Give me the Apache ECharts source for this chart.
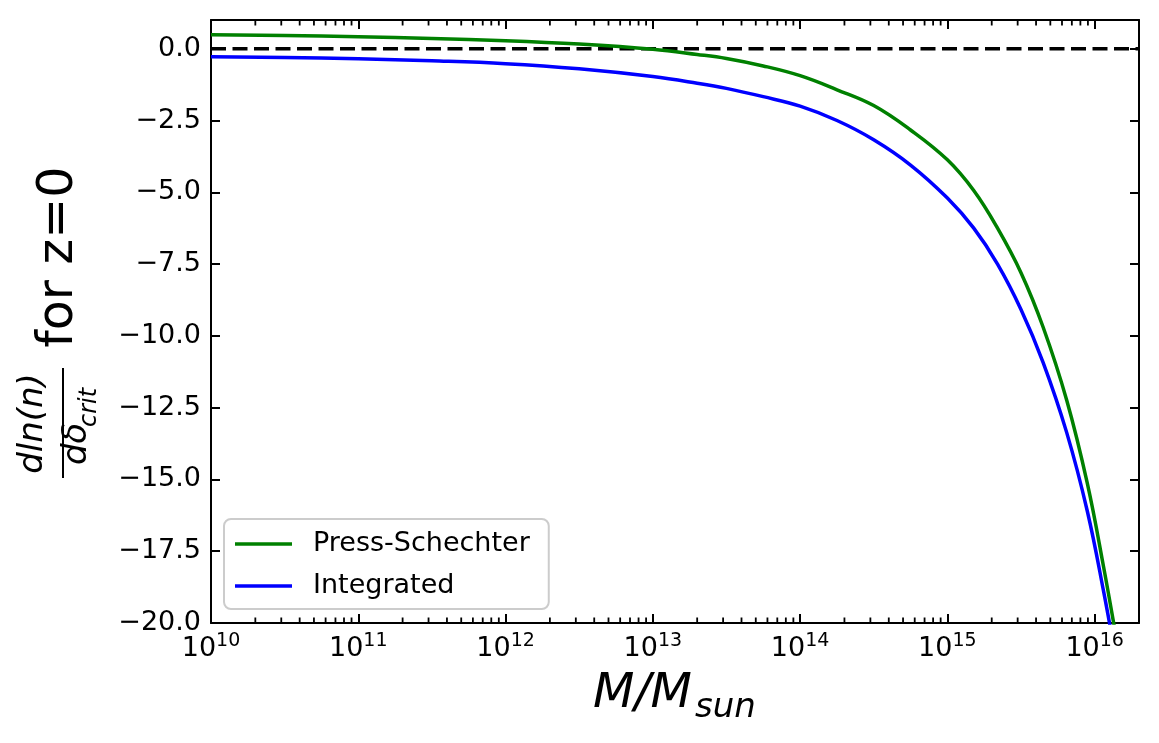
<!DOCTYPE html>
<html>
<head>
<meta charset="utf-8">
<script src="https://cdn.jsdelivr.net/npm/echarts@6/dist/echarts.min.js"></script>
<style>
html,body{margin:0;padding:0;background:#fff;}
#chart{width:1159px;height:743px;}
</style>
</head>
<body>
<div id="chart"></div>
<script>
// ---- data (mass in solar masses) ----
var mass = [1e10, 3.16e10, 1e11, 3.16e11, 1e12, 3.16e12, 1e13, 2e13, 3.16e13, 5.62e13,
            1e14, 1.78e14, 3.16e14, 5.62e14, 1e15, 1.51e15, 2.19e15, 3.16e15, 4.47e15,
            6.46e15, 8.91e15, 1.15e16, 1.41e16];
var pressSchechter = [0.49, 0.46, 0.42, 0.36, 0.28, 0.16, -0.02, -0.20, -0.34, -0.60,
                      -0.94, -1.43, -1.98, -2.83, -3.87, -4.94, -6.25, -7.80, -9.70,
                      -12.24, -15.13, -18.05, -20.6];
var integrated = [-0.28, -0.31, -0.35, -0.42, -0.52, -0.70, -0.97, -1.20, -1.38, -1.67,
                  -2.00, -2.50, -3.17, -4.05, -5.20, -6.25, -7.50, -9.08, -10.93,
                  -13.37, -16.10, -18.90, -21.4];
var seriesNames = ['Press-Schechter', 'Integrated'];
var zeroLevel = 0;
var xMajorMasses = [1e10, 1e11, 1e12, 1e13, 1e14, 1e15, 1e16];
var xMinMass = 1e10, xMaxMass = 2e16;
var yTicks = [-20, -17.5, -15, -12.5, -10, -7.5, -5, -2.5, 0];
var yMin = -20, yMax = 1;

// the x axis is a linear axis over log10(M) (decades), ticks like matplotlib's log axis
var lg = function (m) { return Math.log10(m); };
var xMajorTicks = xMajorMasses.map(lg);
var xMinorTicks = [];
for (var e = 10; e <= 16; e++) {
  for (var k = 2; k <= 9; k++) {
    var v = k * Math.pow(10, e);
    if (v <= xMaxMass) xMinorTicks.push(lg(v));
  }
}
function zip(xs, ys) { return xs.map(function (x, i) { return [lg(x), ys[i]]; }); }

var FONT = 'DejaVu Sans';
var chart = echarts.init(document.getElementById('chart'), null, {renderer: 'canvas'});

function xAxisCfg(pos, showLabels) {
  return {
    type: 'value', min: lg(xMinMass), max: lg(xMaxMass), position: pos, gridIndex: 0, offset: 0,
    axisLine: {show: true, onZero: false, lineStyle: {color: '#000', width: 2}},
    axisTick: {show: true, inside: true, length: 9, lineStyle: {color: '#000', width: 2}, customValues: xMajorTicks},
    axisLabel: showLabels ? {
      show: true, margin: 9, customValues: xMajorTicks,
      formatter: function (val) {
        return '{b|10}{s|' + Math.round(val) + '}';
      },
      rich: {
        b: {fontSize: 27, fontFamily: FONT, color: '#000', lineHeight: 30, verticalAlign: 'bottom'},
        s: {fontSize: 19, fontFamily: FONT, color: '#000', lineHeight: 14, verticalAlign: 'top'}
      }
    } : {show: false},
    splitLine: {show: false},
    minorTick: {show: false}
  };
}

function minorTickSeries(yv, offsetY) {
  return {
    name: 'minor' + yv, type: 'scatter', xAxisIndex: 0, yAxisIndex: 0, silent: true, clip: false, z: 6,
    data: xMinorTicks.map(function (t) { return [t, yv]; }),
    symbol: 'rect', symbolSize: [1.8, 5.5], symbolOffset: [0, offsetY],
    itemStyle: {color: '#000', opacity: 1},
    emphasis: {disabled: true},
    animation: false
  };
}

var option = {
  animation: false,
  backgroundColor: '#fff',
  grid: {left: 211, right: 20, top: 20, bottom: 120, containLabel: false},
  xAxis: [xAxisCfg('bottom', true), xAxisCfg('top', false)],
  yAxis: [
    {
      type: 'value', min: yMin, max: yMax, position: 'left',
      axisLine: {show: true, onZero: false, lineStyle: {color: '#000', width: 2}},
      axisTick: {show: true, inside: true, length: 9, lineStyle: {color: '#000', width: 2}, customValues: yTicks},
      axisLabel: {
        show: true, margin: 10, customValues: yTicks, fontSize: 27, fontFamily: FONT, color: '#000',
        formatter: function (v) { return v.toFixed(1).replace('-', '\u2212'); }
      },
      splitLine: {show: false}
    },
    {
      type: 'value', min: yMin, max: yMax, position: 'right',
      axisLine: {show: true, onZero: false, lineStyle: {color: '#000', width: 2}},
      axisTick: {show: true, inside: true, length: 9, lineStyle: {color: '#000', width: 2}, customValues: yTicks},
      axisLabel: {show: false},
      splitLine: {show: false}
    }
  ],
  legend: {
    data: seriesNames,
    orient: 'vertical',
    left: 224, top: 519,
    icon: 'rect',
    itemWidth: 57, itemHeight: 3.5,
    itemGap: 12,
    padding: [10, 19, 8, 11],
    borderColor: '#cccccc', borderWidth: 2, borderRadius: 7,
    backgroundColor: 'rgba(255,255,255,0.8)',
    textStyle: {fontSize: 27, fontFamily: FONT, color: '#000', lineHeight: 30, padding: [0, 0, 0, 16]}
  },
  series: [
    minorTickSeries(yMin, -2.75),
    minorTickSeries(yMax, 2.75),
    {
      name: 'zero', type: 'line', data: zip([xMinMass, xMaxMass], [zeroLevel, zeroLevel]),
      xAxisIndex: 0, yAxisIndex: 0, silent: true, showSymbol: false, z: 1,
      color: '#000', lineStyle: {color: '#000', type: [15, 6.5], width: 3.5}
    },
    {
      name: seriesNames[0], type: 'line', data: zip(mass, pressSchechter),
      xAxisIndex: 0, yAxisIndex: 0, showSymbol: false, smooth: 0.4, z: 2,
      color: '#008000', lineStyle: {color: '#008000', width: 3.5}, clip: true
    },
    {
      name: seriesNames[1], type: 'line', data: zip(mass, integrated),
      xAxisIndex: 0, yAxisIndex: 0, showSymbol: false, smooth: 0.4, z: 2,
      color: '#0000ff', lineStyle: {color: '#0000ff', width: 3.5}, clip: true
    }
  ],
  graphic: [
    // x-axis title  M/M_sun
    {type: 'text', x: 593, y: 695, style: {text: 'M/M', font: 'italic 48px "DejaVu Sans"', fill: '#000', align: 'left', verticalAlign: 'middle'}},
    {type: 'text', x: 695, y: 708, style: {text: 'sun', font: 'italic 34px "DejaVu Sans"', fill: '#000', align: 'left', verticalAlign: 'middle'}},
    // y-axis title (rotated)
    {type: 'text', x: 33, y: 423.5, rotation: Math.PI / 2, style: {text: 'dln(n)', font: 'italic 34px "DejaVu Sans"', fill: '#000', align: 'center', verticalAlign: 'middle'}},
    {type: 'line', shape: {x1: 63, y1: 368, x2: 63, y2: 478}, style: {stroke: '#000', lineWidth: 2}},
    {type: 'text', x: 77, y: 465, rotation: Math.PI / 2, style: {text: 'd\u03b4', font: 'italic 34px "DejaVu Sans"', fill: '#000', align: 'left', verticalAlign: 'middle'}},
    {type: 'text', x: 90, y: 427, rotation: Math.PI / 2, style: {text: 'crit', font: 'italic 24px "DejaVu Sans"', fill: '#000', align: 'left', verticalAlign: 'middle'}},
    {type: 'text', x: 59, y: 257, rotation: Math.PI / 2, style: {text: 'for z=0', font: '49px "DejaVu Sans"', fill: '#000', align: 'center', verticalAlign: 'middle'}}
  ]
};
chart.setOption(option);
</script>
</body>
</html>
